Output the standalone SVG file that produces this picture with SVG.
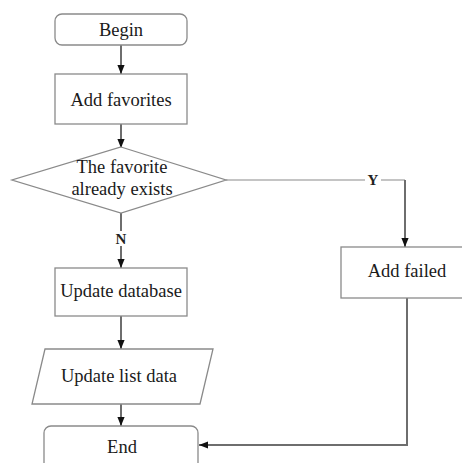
<svg xmlns="http://www.w3.org/2000/svg" width="462" height="463" viewBox="0 0 462 463">
  <style>
    .box { fill: #ffffff; stroke: #8a8a8a; stroke-width: 1.3; }
    .lbl { font-family: "Liberation Serif", "Times New Roman", serif; font-size: 18.5px; fill: #1a1a1a; text-anchor: middle; }
    .yn { font-family: "Liberation Serif", "Times New Roman", serif; font-size: 15px; font-weight: bold; fill: #222; text-anchor: middle; }
    .flow { fill: none; stroke: #6e6e6e; stroke-width: 2; }
    .thin { fill: none; stroke: #8a8a8a; stroke-width: 1.2; }
  </style>
  <defs>
    <marker id="arrow" viewBox="0 0 10 8" refX="10" refY="4" markerWidth="9" markerHeight="9" markerUnits="userSpaceOnUse" orient="auto">
      <path d="M0,0 L10,4 L0,8 Z" fill="#111"/>
    </marker>
  </defs>

  <rect width="462" height="463" fill="#ffffff"/>

  <!-- connectors -->
  <g id="connectors">
    <line class="flow" x1="121" y1="45" x2="121" y2="74" marker-end="url(#arrow)"/>
    <line class="flow" x1="121" y1="124" x2="121" y2="148" marker-end="url(#arrow)"/>
    <line class="flow" x1="121" y1="213" x2="121" y2="268" marker-end="url(#arrow)"/>
    <line class="flow" x1="121" y1="316" x2="121" y2="349" marker-end="url(#arrow)"/>
    <line class="flow" x1="121" y1="404" x2="121" y2="426" marker-end="url(#arrow)"/>
    <polyline class="thin" points="226,180 405,180"/>
    <line class="flow" x1="405" y1="180" x2="405" y2="247" marker-end="url(#arrow)"/>
    <polyline class="flow" points="407,298 407,445 199,445" marker-end="url(#arrow)"/>
    <!-- branch labels -->
    <rect x="365" y="172" width="16" height="15" fill="#ffffff"/>
    <text class="yn" x="373" y="185">Y</text>
    <rect x="114" y="231" width="14" height="15" fill="#ffffff"/>
    <text class="yn" x="121" y="243.5">N</text>
  </g>

  <g id="begin">
    <rect class="box" x="55" y="14" width="132" height="31" rx="7"/>
    <text class="lbl" x="121" y="36">Begin</text>
  </g>

  <g id="add-favorites">
    <rect class="box" x="55" y="74" width="132" height="50"/>
    <text class="lbl" x="121" y="106">Add favorites</text>
  </g>

  <g id="exists-check">
    <polygon class="box" points="121,147 226,180 121,213 12,180"/>
    <text class="lbl" x="122" y="173">The favorite</text>
    <text class="lbl" x="122" y="195">already exists</text>
  </g>

  <g id="update-database">
    <rect class="box" x="55" y="268" width="132" height="48"/>
    <text class="lbl" x="121" y="297">Update database</text>
  </g>

  <g id="update-list">
    <polygon class="box" points="45,349 213,349 200,404 32,404"/>
    <text class="lbl" x="119" y="382">Update list data</text>
  </g>

  <g id="add-failed">
    <rect class="box" x="341" y="247" width="132" height="51"/>
    <text class="lbl" x="407" y="277">Add failed</text>
  </g>

  <g id="end">
    <rect class="box" x="44" y="426" width="154" height="50" rx="7"/>
    <text class="lbl" x="122" y="453">End</text>
  </g>
</svg>
